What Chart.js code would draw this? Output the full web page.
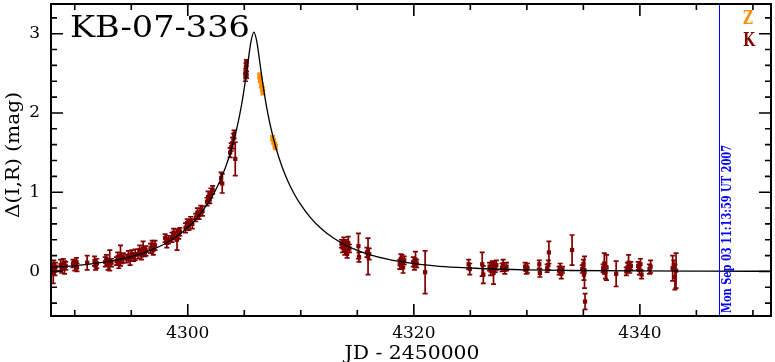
<!DOCTYPE html>
<html><head><meta charset="utf-8">
<script src="https://cdn.jsdelivr.net/npm/chart.js@4.4.1/dist/chart.umd.min.js"></script>
<style>html,body{margin:0;padding:0;background:#fff}#wrap{width:775px;height:362px;position:relative}</style>
</head><body><div id="wrap"><canvas id="c"></canvas></div>
<script>
// ---- data ----
const kJD = [4288.05,4288.10,4288.15,4288.25,4288.30,4288.75,4288.85,4289.00,4289.10,4289.20,
4289.85,4290.00,4290.15,4290.20,4291.10,4291.75,4291.85,4291.95,4292.70,4292.80,4292.95,4293.10,4293.25,
4293.70,4293.80,4293.90,4294.05,4294.15,4294.30,4294.60,4294.75,4294.90,4295.05,4295.20,4295.35,
4295.60,4295.75,4295.90,4296.05,4296.20,4296.30,4296.70,4296.85,4296.95,4297.10,4298.00,4298.15,4298.30,
4298.60,4298.75,4298.90,4299.05,4299.20,4299.30,4299.80,4299.95,4300.10,4300.25,4300.40,
4300.70,4300.85,4301.00,4301.15,4301.30,4301.70,4301.80,4301.95,4302.05,4302.20,4302.95,4303.05,
4303.75,4303.85,4303.95,4304.05,4304.10,4304.20,4305.10,4305.13,4305.16,4305.18,4305.20,
4313.60,4313.70,4313.80,4313.90,4314.00,4314.10,4314.20,4314.30,4315.10,4315.15,4315.85,4315.95,4316.05,
4318.75,4318.85,4318.95,4319.05,4319.15,4319.95,4320.05,4320.15,4320.25,4321.00,4324.85,4324.95,
4326.05,4326.15,4326.70,4326.80,4326.95,4327.05,4327.20,4327.30,4327.80,4327.90,4328.05,4328.20,
4329.85,4329.95,4330.05,4331.10,4331.15,4331.80,4331.90,4331.95,4332.85,4332.95,4333.05,4333.15,
4334.00,4334.90,4335.00,4335.05,4335.10,4335.15,4336.75,4336.85,4336.95,4337.05,4337.90,
4338.80,4338.90,4339.00,4339.10,4339.20,4339.85,4339.95,4340.05,4340.15,4340.85,4340.95,
4342.90,4343.00,4343.10,4343.20];
const kMag = [0.04,-0.02,0.09,0.01,0.06,0.08,0.03,0.10,0.05,0.07,
0.10,0.07,0.12,0.05,0.11,0.13,0.07,0.10,0.12,0.16,0.09,0.14,0.11,
0.13,0.18,0.11,0.20,0.15,0.17,0.16,0.20,0.15,0.22,0.18,0.21,
0.22,0.27,0.20,0.29,0.24,0.26,0.29,0.34,0.27,0.33,0.42,0.36,0.40,
0.43,0.49,0.45,0.40,0.47,0.50,0.55,0.61,0.58,0.64,0.60,
0.68,0.74,0.71,0.78,0.76,0.88,0.94,0.91,0.99,1.03,1.18,1.11,
1.50,1.57,1.62,1.68,1.73,1.42,2.45,2.52,2.58,2.63,2.48,
0.35,0.30,0.38,0.27,0.33,0.22,0.36,0.29,0.32,0.18,0.24,0.19,0.22,
0.09,0.16,0.13,0.05,0.14,0.12,0.07,0.15,0.10,-0.01,0.09,0.03,
0.09,-0.04,0.06,0.01,0.08,-0.02,0.04,0.08,0.05,0.09,0.02,0.06,
0.06,0.02,0.04,0.09,-0.02,0.04,0.08,0.24,0.01,0.05,-0.03,0.02,
0.27,0.03,0.09,-0.04,-0.01,-0.38,0.04,0.10,-0.01,0.05,-0.03,
0.00,0.05,0.11,0.03,0.07,0.07,0.02,0.09,-0.04,0.03,0.06,
0.04,0.08,-0.07,0.01];
const kErr = [0.06,0.13,0.05,0.06,0.05,0.07,0.05,0.06,0.08,0.05,
0.05,0.06,0.05,0.05,0.09,0.06,0.05,0.06,0.06,0.05,0.07,0.13,0.05,
0.05,0.06,0.07,0.13,0.05,0.06,0.05,0.06,0.07,0.05,0.05,0.07,
0.06,0.06,0.05,0.09,0.05,0.06,0.06,0.05,0.06,0.06,0.05,0.06,0.05,
0.06,0.05,0.05,0.13,0.06,0.05,0.06,0.05,0.06,0.05,0.06,
0.05,0.06,0.05,0.05,0.06,0.05,0.07,0.05,0.06,0.05,0.07,0.12,
0.06,0.05,0.07,0.06,0.05,0.21,0.05,0.04,0.05,0.04,0.04,
0.05,0.06,0.05,0.06,0.07,0.05,0.08,0.05,0.16,0.06,0.06,0.23,0.07,
0.06,0.06,0.08,0.07,0.05,0.06,0.05,0.10,0.05,0.27,0.06,0.07,
0.15,0.11,0.05,0.06,0.05,0.14,0.05,0.06,0.05,0.06,0.05,0.05,
0.05,0.05,0.06,0.05,0.05,0.05,0.06,0.14,0.05,0.05,0.06,0.04,
0.19,0.05,0.06,0.07,0.20,0.10,0.05,0.13,0.08,0.16,0.16,
0.05,0.06,0.10,0.05,0.05,0.05,0.06,0.07,0.05,0.06,0.08,
0.16,0.06,0.16,0.22];

const zJD  = [4306.35,4306.40,4306.50,4306.60,4306.65,4307.50,4307.60,4307.70,4307.75];
const zMag = [2.47,2.42,2.35,2.30,2.26,1.68,1.64,1.60,1.57];
const zErr = [0.03,0.03,0.03,0.03,0.03,0.03,0.03,0.03,0.03];

const modelJD = [4287.85,4289.85,4291.85,4293.85,4295.85,4296.85,4297.85,4298.85,4299.85,4300.85,4301.85,
4302.35,4302.85,4303.35,4303.85,4304.35,4304.60,4304.85,4305.10,4305.35,4305.60,4305.85,
4306.10,4306.35,4306.60,4306.85,4307.10,4307.35,4307.85,4308.35,4308.85,4309.35,4309.85,4310.85,
4311.85,4312.85,4313.85,4314.85,4315.85,4317.85,4319.85,4321.85,4323.85,4325.85,4329.85,4333.85,
4339.85,4345.85,4351.85];
const modelMag = [0.051,0.071,0.101,0.148,0.221,0.274,0.340,0.424,0.535,0.680,0.874,
0.996,1.142,1.318,1.535,1.813,1.981,2.178,2.407,2.664,2.906,3.020,
2.906,2.664,2.407,2.178,1.981,1.813,1.535,1.318,1.142,0.996,0.874,0.680,
0.535,0.424,0.340,0.274,0.221,0.148,0.101,0.071,0.051,0.037,0.020,0.012,
0.006,0.003,0.002];

const xTickValues = [4300, 4320, 4340];
const yTickValues = [0, 1, 2, 3];
const xMinorStep = 5, yMinorStep = 0.2;
const xRange = [4287.9, 4351.6];
const yRange = [-0.5625, 3.375];
const stampJD = 4347;

const titleText = 'KB-07-336';
const xTitle = 'JD - 2450000';
const yTitle = 'Δ(I,R) (mag)';
const stampText = 'Mon Sep 03 11:13:59 UT 2007';
const legendLabels = ['Z', 'K'];

const COL_K = '#800000', COL_Z = '#ff8c00', COL_STAMP = '#0000ff';

const pts = (xs, ys) => xs.map((v, i) => ({x: v, y: ys[i]}));

// ---- plugins ----
const errorBars = {
  id: 'errorBars',
  beforeDatasetDraw(chart, args) {
    const ds = chart.data.datasets[args.index];
    if (!ds.errors) return;
    const {ctx, scales: {x, y}, chartArea: a} = chart;
    ctx.save();
    ctx.beginPath(); ctx.rect(a.left, a.top, a.right - a.left, a.bottom - a.top); ctx.clip();
    ctx.strokeStyle = ds.backgroundColor; ctx.lineWidth = 1.7;
    ds.data.forEach((p, i) => {
      const e = ds.errors[i];
      const px = x.getPixelForValue(p.x);
      const y1 = y.getPixelForValue(p.y + e), y2 = y.getPixelForValue(p.y - e);
      ctx.beginPath();
      ctx.moveTo(px, y1); ctx.lineTo(px, y2);
      ctx.moveTo(px - 2.5, y1); ctx.lineTo(px + 2.5, y1);
      ctx.moveTo(px - 2.5, y2); ctx.lineTo(px + 2.5, y2);
      ctx.stroke();
    });
    ctx.restore();
  }
};

const frame = {
  id: 'frame',
  afterDatasetsDraw(chart) {
    const {ctx, chartArea: a, scales: {x, y}} = chart;
    ctx.save();
    // stamp line
    ctx.strokeStyle = COL_STAMP; ctx.lineWidth = 1;
    const sx = Math.round(x.getPixelForValue(stampJD)) + 0.5;
    ctx.beginPath(); ctx.moveTo(sx, a.top); ctx.lineTo(sx, a.bottom); ctx.stroke();
    // frame
    ctx.strokeStyle = '#000'; ctx.lineWidth = 2;
    ctx.strokeRect(a.left, a.top, a.right - a.left, a.bottom - a.top);
    ctx.lineWidth = 1.6;
    ctx.beginPath();
    const x0 = Math.ceil(xRange[0] / xMinorStep) * xMinorStep;
    for (let v = x0; v <= xRange[1]; v += xMinorStep) {
      const px = x.getPixelForValue(v);
      const len = xTickValues.includes(v) ? 12 : 6;
      ctx.moveTo(px, a.bottom); ctx.lineTo(px, a.bottom - len);
      ctx.moveTo(px, a.top); ctx.lineTo(px, a.top + len);
    }
    const n0 = Math.ceil(yRange[0] / yMinorStep), n1 = Math.floor(yRange[1] / yMinorStep);
    for (let n = n0; n <= n1; n++) {
      const v = +(n * yMinorStep).toFixed(2);
      const py = y.getPixelForValue(v);
      const len = yTickValues.includes(v) ? 12 : 6;
      ctx.moveTo(a.left, py); ctx.lineTo(a.left + len, py);
      ctx.moveTo(a.right, py); ctx.lineTo(a.right - len, py);
    }
    ctx.stroke();
    ctx.restore();
  },
  afterDraw(chart) {
    const ctx = chart.ctx;
    const fit = (text, x, y, width, font, color, rot, align) => {
      ctx.save();
      ctx.font = font; ctx.fillStyle = color;
      ctx.translate(x, y); ctx.rotate(rot || 0);
      const w = ctx.measureText(text).width;
      ctx.scale(width / w, 1);
      ctx.textAlign = align || 'center'; ctx.textBaseline = 'alphabetic';
      ctx.fillText(text, 0, 0);
      ctx.restore();
    };
    fit(titleText, 70, 37, 180, '30px "DejaVu Serif"', '#000', 0, 'left');
    fit(xTitle, 412, 359, 135, '18px "DejaVu Serif"', '#000', 0, 'center');
    fit(yTitle, 19, 155, 126, '19px "DejaVu Serif"', '#000', -Math.PI / 2, 'center');
    fit(stampText, 731, 229, 168, 'bold 13px "DejaVu Serif"', COL_STAMP, -Math.PI / 2, 'center');
    fit(legendLabels[0], 748, 24, 10, 'bold 18px "DejaVu Serif"', COL_Z, 0, 'center');
    fit(legendLabels[1], 749, 46, 12, 'bold 18px "DejaVu Serif"', COL_K, 0, 'center');
  }
};

new Chart(document.getElementById('c'), {
  type: 'scatter',
  data: {
    datasets: [
      {label: 'model', data: pts(modelJD, modelMag), showLine: true, pointRadius: 0,
       borderColor: '#000', borderWidth: 1.3, cubicInterpolationMode: 'monotone', order: 0},
      {label: 'Z', data: pts(zJD, zMag), errors: zErr, backgroundColor: COL_Z, borderWidth: 0,
       pointStyle: 'rect', pointRadius: 3, order: 1},
      {label: 'K', data: pts(kJD, kMag), errors: kErr, backgroundColor: COL_K, borderWidth: 0,
       pointStyle: 'rect', pointRadius: 3, order: 2}
    ]
  },
  options: {
    responsive: true, maintainAspectRatio: false, animation: false, devicePixelRatio: 1,
    layout: {padding: {top: 1, right: 3, left: 0, bottom: 0}},
    plugins: {legend: {display: false}, tooltip: {enabled: false}},
    scales: {
      x: {type: 'linear', min: xRange[0], max: xRange[1],
          grid: {display: false, drawTicks: false}, border: {display: false},
          afterBuildTicks: s => { s.ticks = xTickValues.map(v => ({value: v})); },
          afterFit: s => { s.height = 46; s.paddingLeft = 0; s.paddingRight = 0; },
          ticks: {padding: 7, color: '#000', font: {family: 'DejaVu Serif', size: 17},
                  callback: v => String(v), maxRotation: 0, autoSkip: false}},
      y: {type: 'linear', min: yRange[0], max: yRange[1],
          grid: {display: false, drawTicks: false}, border: {display: false},
          afterBuildTicks: s => { s.ticks = yTickValues.map(v => ({value: v})); },
          afterFit: s => { s.width = 51; s.paddingTop = 0; s.paddingBottom = 0; },
          ticks: {padding: 11, color: '#000', font: {family: 'DejaVu Serif', size: 17},
                  callback: v => String(v), autoSkip: false}}
    }
  },
  plugins: [errorBars, frame]
});
</script>
</body></html>
